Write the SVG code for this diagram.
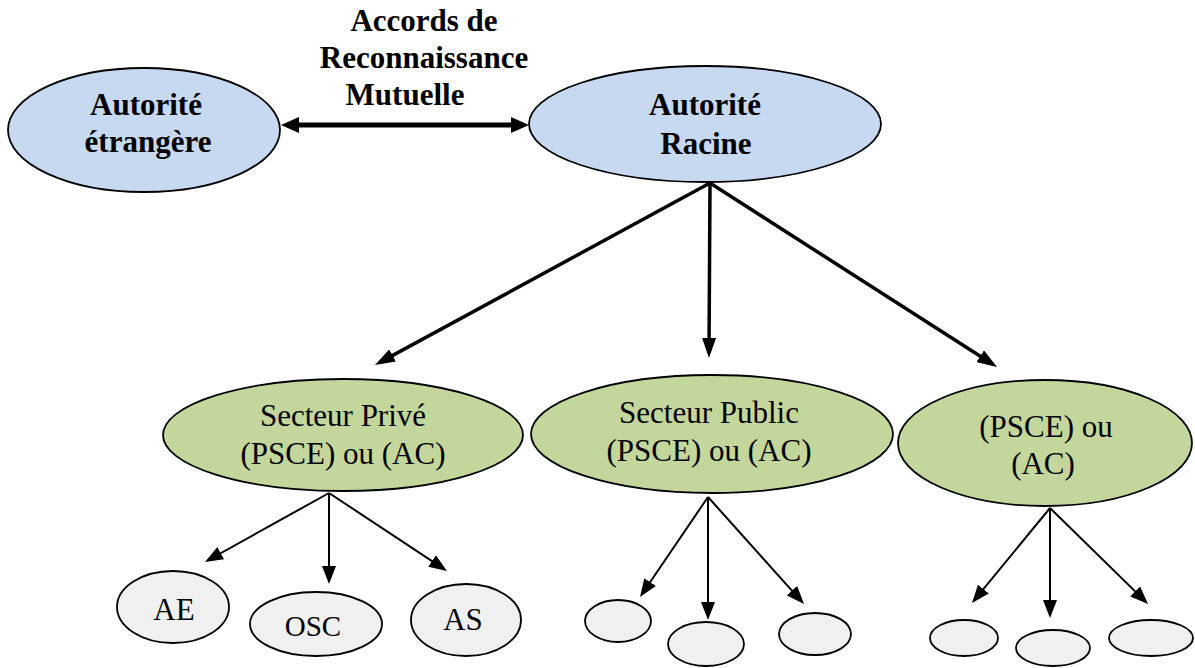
<svg xmlns="http://www.w3.org/2000/svg" width="1195" height="668" viewBox="0 0 1195 668">
<style>
.blue{fill:#c6d9f1;stroke:#000;stroke-width:1.8}
.green{fill:#c3d69b;stroke:#000;stroke-width:1.8}
.gray{fill:#f0f0f0;stroke:#000;stroke-width:1.8}
.b{font-family:"Liberation Serif","Times New Roman",serif;font-weight:bold;font-size:31px;text-anchor:middle;fill:#000}
.r{font-family:"Liberation Serif","Times New Roman",serif;font-size:31px;text-anchor:middle;fill:#000}
.c{fill:none;stroke:#000}
</style>
<defs>
<marker id="hd" markerUnits="userSpaceOnUse" markerWidth="18" markerHeight="16" refX="12" refY="8" orient="auto-start-reverse"><path d="M0,0 L18,8 L0,16 z" fill="#000"/></marker>
<marker id="hb" markerUnits="userSpaceOnUse" markerWidth="20" markerHeight="14" refX="15" refY="7" orient="auto"><path d="M0,0 L20,7 L0,14 z" fill="#000"/></marker>
<marker id="hs" markerUnits="userSpaceOnUse" markerWidth="18" markerHeight="14" refX="15" refY="7" orient="auto"><path d="M0,0 L18,7 L0,14 z" fill="#000"/></marker>
</defs>
<g id="connectors">
<line class="c" x1="287" y1="125" x2="523" y2="125" stroke-width="5" marker-start="url(#hd)" marker-end="url(#hd)"/>
<line class="c" x1="710" y1="183" x2="379.4" y2="362.6" stroke-width="3.5" marker-end="url(#hb)"/>
<line class="c" x1="710" y1="183" x2="709" y2="353" stroke-width="3.5" marker-end="url(#hb)"/>
<line class="c" x1="710" y1="183" x2="992.8" y2="364.3" stroke-width="3.5" marker-end="url(#hb)"/>
<line class="c" x1="329" y1="493" x2="207.6" y2="560.5" stroke-width="2" marker-end="url(#hs)"/>
<line class="c" x1="329" y1="493" x2="329" y2="581" stroke-width="2" marker-end="url(#hs)"/>
<line class="c" x1="329" y1="493" x2="444.5" y2="569.3" stroke-width="2" marker-end="url(#hs)"/>
<line class="c" x1="708" y1="497" x2="641.7" y2="594.5" stroke-width="2" marker-end="url(#hs)"/>
<line class="c" x1="708" y1="497" x2="708" y2="617" stroke-width="2" marker-end="url(#hs)"/>
<line class="c" x1="708" y1="497" x2="802" y2="601.8" stroke-width="2" marker-end="url(#hs)"/>
<line class="c" x1="1050" y1="508" x2="973.9" y2="600.7" stroke-width="2" marker-end="url(#hs)"/>
<line class="c" x1="1050" y1="508" x2="1050" y2="615" stroke-width="2" marker-end="url(#hs)"/>
<line class="c" x1="1050" y1="508" x2="1145.9" y2="601.9" stroke-width="2" marker-end="url(#hs)"/>
</g>
<g id="label-accords">
<text class="b" x="424" y="31">Accords de</text>
<text class="b" x="424" y="68">Reconnaissance</text>
<text class="b" x="405" y="105">Mutuelle</text>
</g>
<g id="autorite-etrangere">
<ellipse class="blue" cx="144" cy="130" rx="136" ry="62"/>
<text class="b" x="146" y="115">Autorité</text>
<text class="b" x="148" y="152">étrangère</text>
</g>
<g id="autorite-racine">
<ellipse class="blue" cx="705" cy="124" rx="176" ry="58"/>
<text class="b" x="705" y="115">Autorité</text>
<text class="b" x="706" y="154">Racine</text>
</g>
<g id="secteur-prive">
<ellipse class="green" cx="343" cy="435" rx="180" ry="56"/>
<text class="r" x="343" y="426">Secteur Privé</text>
<text class="r" x="343" y="464">(PSCE) ou (AC)</text>
</g>
<g id="secteur-public">
<ellipse class="green" cx="712" cy="434" rx="181" ry="59"/>
<text class="r" x="709" y="423">Secteur Public</text>
<text class="r" x="709" y="461">(PSCE) ou (AC)</text>
</g>
<g id="pscе-ac">
<ellipse class="green" cx="1045" cy="443" rx="147" ry="63"/>
<text class="r" x="1046" y="437">(PSCE) ou</text>
<text class="r" x="1043" y="474">(AC)</text>
</g>
<g id="ae">
<ellipse class="gray" cx="173" cy="607" rx="56" ry="36"/>
<text class="r" x="174" y="620">AE</text>
</g>
<g id="osc">
<ellipse class="gray" cx="316" cy="624" rx="66" ry="32"/>
<text class="r" x="313" y="636" style="font-size:29px">OSC</text>
</g>
<g id="as">
<ellipse class="gray" cx="466" cy="620" rx="55" ry="36"/>
<text class="r" x="463" y="630">AS</text>
</g>
<g id="pub-1"><ellipse class="gray" cx="618" cy="621" rx="33" ry="21"/></g>
<g id="pub-2"><ellipse class="gray" cx="706" cy="644" rx="38" ry="22"/></g>
<g id="pub-3"><ellipse class="gray" cx="815" cy="634" rx="36" ry="21"/></g>
<g id="ac-1"><ellipse class="gray" cx="964" cy="638" rx="34" ry="18"/></g>
<g id="ac-2"><ellipse class="gray" cx="1053" cy="648" rx="37" ry="18"/></g>
<g id="ac-3"><ellipse class="gray" cx="1151" cy="638" rx="42" ry="18"/></g>
</svg>
